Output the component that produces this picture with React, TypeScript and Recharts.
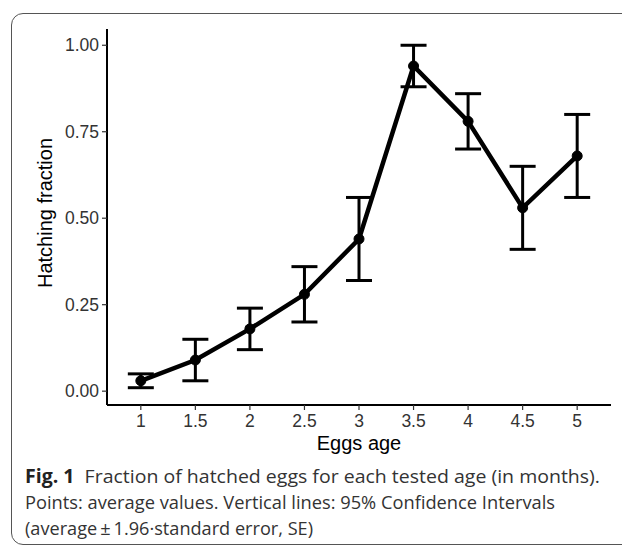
import React from 'react'
import { ComposedChart, Line, ErrorBar, XAxis, YAxis } from 'recharts'

// egg age (months) and hatching fraction with 95% CI bounds
const ages = [1, 1.5, 2, 2.5, 3, 3.5, 4, 4.5, 5]
const means = [0.03, 0.09, 0.18, 0.28, 0.44, 0.94, 0.78, 0.53, 0.68]
const lower = [0.01, 0.03, 0.12, 0.2, 0.32, 0.88, 0.7, 0.41, 0.56]
const upper = [0.05, 0.15, 0.24, 0.36, 0.56, 1.0, 0.86, 0.65, 0.8]

const xTicks = [1, 1.5, 2, 2.5, 3, 3.5, 4, 4.5, 5]
const yTicks = [0, 0.25, 0.5, 0.75, 1]

const data = ages.map((age, i) => ({
  age,
  mean: means[i],
  err: [means[i] - lower[i], upper[i] - means[i]],
}))

const axisFont = '"Liberation Sans", Arial, sans-serif'
const captionFont = '"Open Sans", "Noto Sans", sans-serif'

export default function App() {
  return (
    <div style={{ position: 'absolute', left: 0, top: 0, width: 622, height: 547, overflow: 'hidden', background: '#fff' }}>
      {/* rounded figure frame */}
      <div
        style={{
          position: 'absolute',
          left: 11,
          top: 13,
          width: 660,
          height: 532,
          border: '1.5px solid #555',
          borderRadius: 12,
          boxSizing: 'border-box',
        }}
      />

      <div style={{ position: 'absolute', left: 0, top: 0 }}>
        <ComposedChart
          width={622}
          height={460}
          data={data}
          margin={{ top: 29, right: 11, left: 45, bottom: 7 }}
        >
          <XAxis
            dataKey="age"
            type="number"
            domain={[0.69, 5.31]}
            ticks={xTicks}
            allowDecimals
            height={48}
            tickSize={5}
            tickMargin={5}
            axisLine={{ stroke: '#000', strokeWidth: 2 }}
            tickLine={{ stroke: '#333', strokeWidth: 1.2 }}
            tick={{ fill: '#333', fontSize: 17.5, fontFamily: axisFont }}
            label={{
              value: 'Eggs age',
              position: 'insideBottom',
              offset: 3,
              fill: '#000',
              fontSize: 20,
              fontFamily: axisFont,
            }}
          />
          <YAxis
            type="number"
            domain={[-0.04, 1.047]}
            ticks={yTicks}
            width={62}
            tickSize={5}
            tickMargin={3}
            tickFormatter={(v: number) => v.toFixed(2)}
            axisLine={{ stroke: '#000', strokeWidth: 2 }}
            tickLine={{ stroke: '#333', strokeWidth: 1.2 }}
            tick={{ fill: '#333', fontSize: 17.5, fontFamily: axisFont }}
            label={{
              value: 'Hatching fraction',
              angle: -90,
              position: 'insideLeft',
              offset: 0,
              dy: -4,
              fill: '#000',
              fontSize: 20,
              fontFamily: axisFont,
              style: { textAnchor: 'middle' },
            }}
          />
          <Line
            dataKey="mean"
            type="linear"
            stroke="#000"
            strokeWidth={4.5}
            dot={{ r: 5, fill: '#000', stroke: '#000', strokeWidth: 1 }}
            activeDot={false}
            isAnimationActive={false}
          >
            <ErrorBar dataKey="err" direction="y" width={13} stroke="#000" strokeWidth={3} isAnimationActive={false} />
          </Line>
        </ComposedChart>
      </div>

      {/* caption */}
      <svg width={622} height={547} style={{ position: 'absolute', left: 0, top: 0, pointerEvents: 'none' }}>
        <text x={25} y={483} fontFamily={captionFont} fontSize={19} fill="#333" textLength={575} lengthAdjust="spacingAndGlyphs">
          <tspan fontWeight="bold" fill="#222">Fig. 1</tspan>
          <tspan>{'\u00a0\u00a0Fraction of hatched eggs for each tested age (in months).'}</tspan>
        </text>
        <text x={25} y={509} fontFamily={captionFont} fontSize={19} fill="#333" textLength={530} lengthAdjust="spacingAndGlyphs">
          Points: average values. Vertical lines: 95% Confidence Intervals
        </text>
        <text x={25} y={535} fontFamily={captionFont} fontSize={19} fill="#333" textLength={288} lengthAdjust="spacingAndGlyphs">
          {'(average\u2009\u00b1\u20091.96\u00b7standard error, SE)'}
        </text>
      </svg>
    </div>
  )
}
